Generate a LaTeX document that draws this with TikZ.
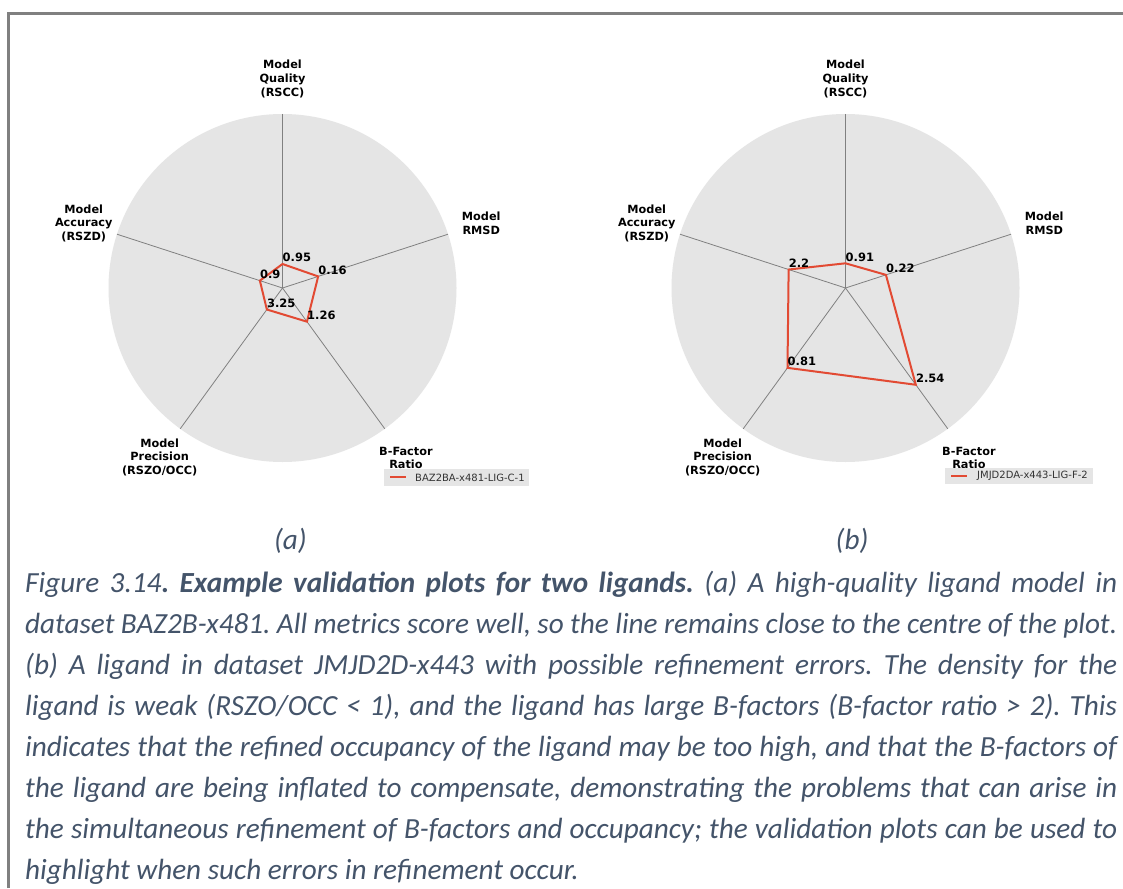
\documentclass[tikz,border=0pt]{standalone}
\usepackage{fontspec}
\setmainfont{Carlito}
\newfontfamily\plotfont{DejaVu Sans}
\usetikzlibrary{calc}
\frenchspacing

\definecolor{panelgray}{HTML}{E5E5E5}
\definecolor{spokegray}{HTML}{808080}
\definecolor{traceRed}{HTML}{E24A33}
\definecolor{captext}{HTML}{44546A}
\definecolor{framegray}{HTML}{808080}

\tikzset{
  axislabel/.style={font=\plotfont\bfseries\fontsize{11.3}{13.6}\selectfont, align=center, inner sep=0pt, text=black},
  valuelabel/.style={font=\plotfont\bfseries\fontsize{11.5}{13.6}\selectfont, anchor=base west, inner sep=0pt, text=black},
  spoke/.style={draw=spokegray, line width=0.8pt},
  trace/.style={draw=traceRed, line width=2pt, line join=miter},
  legendsample/.style={draw=traceRed, line width=2pt},
  panel/.style={fill=panelgray, draw=none},
  legendbox/.style={fill=panelgray, draw=none},
  legendtext/.style={font=\plotfont\fontsize{10}{12}\selectfont, text=black!80, anchor=west, inner sep=0pt},
  captionline/.style={font=\fontsize{29.2}{41}\selectfont\itshape, text=captext, anchor=base west, inner sep=0pt},
  sublabel/.style={font=\fontsize{29.2}{41}\selectfont\itshape, text=captext, anchor=base, inner sep=0pt},
}

% Polar panel, five spokes and the five axis titles of one radar plot
\newcommand\radarbase[1]{%
  \coordinate (#1c) at (0,0);
  \fill[panel] (#1c) circle[radius=174pt];
  \foreach \ang/\nm in {90/q,18/r,-54/b,-126/p,162/a}{%
    \coordinate (#1s\nm) at (\ang:174);
    \draw[spoke] (#1c) -- (#1s\nm);
  }
  \node[axislabel] (#1lq) at (90:209) {Model\\Quality\\(RSCC)};
  \node[axislabel] (#1lr) at (18:209) {Model\\RMSD};
  \node[axislabel] (#1lb) at (-54:210) {B-Factor\\Ratio};
  \node[axislabel] (#1lp) at (-126:209) {Model\\Precision\\(RSZO/OCC)};
  \node[axislabel] (#1la) at (162:209) {Model\\Accuracy\\(RSZD)};
}

\begin{document}
\begin{tikzpicture}[x=1pt,y=-1pt]
\useasboundingbox (0,0) rectangle (1123,888);
\fill[white] (0,0) rectangle (1123,888);

% page frame
\draw[framegray, line width=3pt] (8.5,888) -- (8.5,13.7) -- (1123,13.7);

% ---------- plot (a) ----------
\begin{scope}[shift={(282.5pt,-288pt)}, x=1pt, y=1pt]
  \radarbase{A}
  \coordinate (Aq) at (90:24);
  \coordinate (Ar) at (18:37.5);
  \coordinate (Ab) at (-54:41.6);
  \coordinate (Ap) at (-126:26.6);
  \coordinate (Aa) at (162:23.8);
  \draw[trace] (Aq) -- (Ar) -- (Ab) -- (Ap) -- (Aa) -- cycle;
  \node[valuelabel] (Avq) at ($(Aq)+(0,2.3)$) {0.95};
  \node[valuelabel] (Avr) at ($(Ar)+(0,2.3)$) {0.16};
  \node[valuelabel] (Avb) at ($(Ab)+(0,2.3)$) {1.26};
  \node[valuelabel] (Avp) at ($(Ap)+(0,2.3)$) {3.25};
  \node[valuelabel] (Ava) at ($(Aa)+(0,2.3)$) {0.9};
\end{scope}
\fill[legendbox] (384,469) rectangle (529,486);
\coordinate (Ams) at (390,477);
\coordinate (Ame) at (406,477);
\draw[legendsample] (Ams) -- (Ame);
\node[legendtext] (Aleg) at (415,477.5) {BAZ2BA-x481-LIG-C-1};

% ---------- plot (b) ----------
\begin{scope}[shift={(845.5pt,-288pt)}, x=1pt, y=1pt]
  \radarbase{B}
  \coordinate (Bq) at (90:24.7);
  \coordinate (Br) at (18:42.5);
  \coordinate (Bb) at (-54:119.6);
  \coordinate (Bp) at (-126:98.7);
  \coordinate (Ba) at (162:59.8);
  \draw[trace] (Bq) -- (Br) -- (Bb) -- (Bp) -- (Ba) -- cycle;
  \node[valuelabel] (Bvq) at ($(Bq)+(0,2.3)$) {0.91};
  \node[valuelabel] (Bvr) at ($(Br)+(0,2.3)$) {0.22};
  \node[valuelabel] (Bvb) at ($(Bb)+(0,2.3)$) {2.54};
  \node[valuelabel] (Bvp) at ($(Bp)+(0,2.3)$) {0.81};
  \node[valuelabel] (Bva) at ($(Ba)+(0,2.3)$) {2.2};
\end{scope}
\fill[legendbox] (945,468) rectangle (1093,484);
\coordinate (Bms) at (951,476);
\coordinate (Bme) at (967,476);
\draw[legendsample] (Bms) -- (Bme);
\node[legendtext] (Bleg) at (977,476) {JMJD2DA-x443-LIG-F-2};

% ---------- sub-figure labels ----------
\node[sublabel] (suba) at (290.5,549) {(a)};
\node[sublabel] (subb) at (852,549) {(b)};

% ---------- caption ----------
\node[captionline] (cap1) at (25,592) {\makebox[1092pt][s]{Figure 3.14\textbf{. Example validation plots for two ligands.} (a) A high-quality ligand model in}};
\node[captionline] (cap2) at (25,633) {\makebox[1092pt][s]{dataset BAZ2B-x481. All metrics score well, so the line remains close to the centre of the plot.}};
\node[captionline] (cap3) at (25,674) {\makebox[1092pt][s]{(b) A ligand in dataset JMJD2D-x443 with possible refinement errors. The density for the}};
\node[captionline] (cap4) at (25,715) {\makebox[1092pt][s]{ligand is weak (RSZO/OCC < 1), and the ligand has large B-factors (B-factor ratio > 2). This}};
\node[captionline] (cap5) at (25,756) {\makebox[1092pt][s]{indicates that the refined occupancy of the ligand may be too high, and that the B-factors of}};
\node[captionline] (cap6) at (25,797) {\makebox[1092pt][s]{the ligand are being inflated to compensate, demonstrating the problems that can arise in}};
\node[captionline] (cap7) at (25,838) {\makebox[1092pt][s]{the simultaneous refinement of B-factors and occupancy; the validation plots can be used to}};
\node[captionline] (cap8) at (25,879) {highlight when such errors in refinement occur.};
\end{tikzpicture}
\end{document}
